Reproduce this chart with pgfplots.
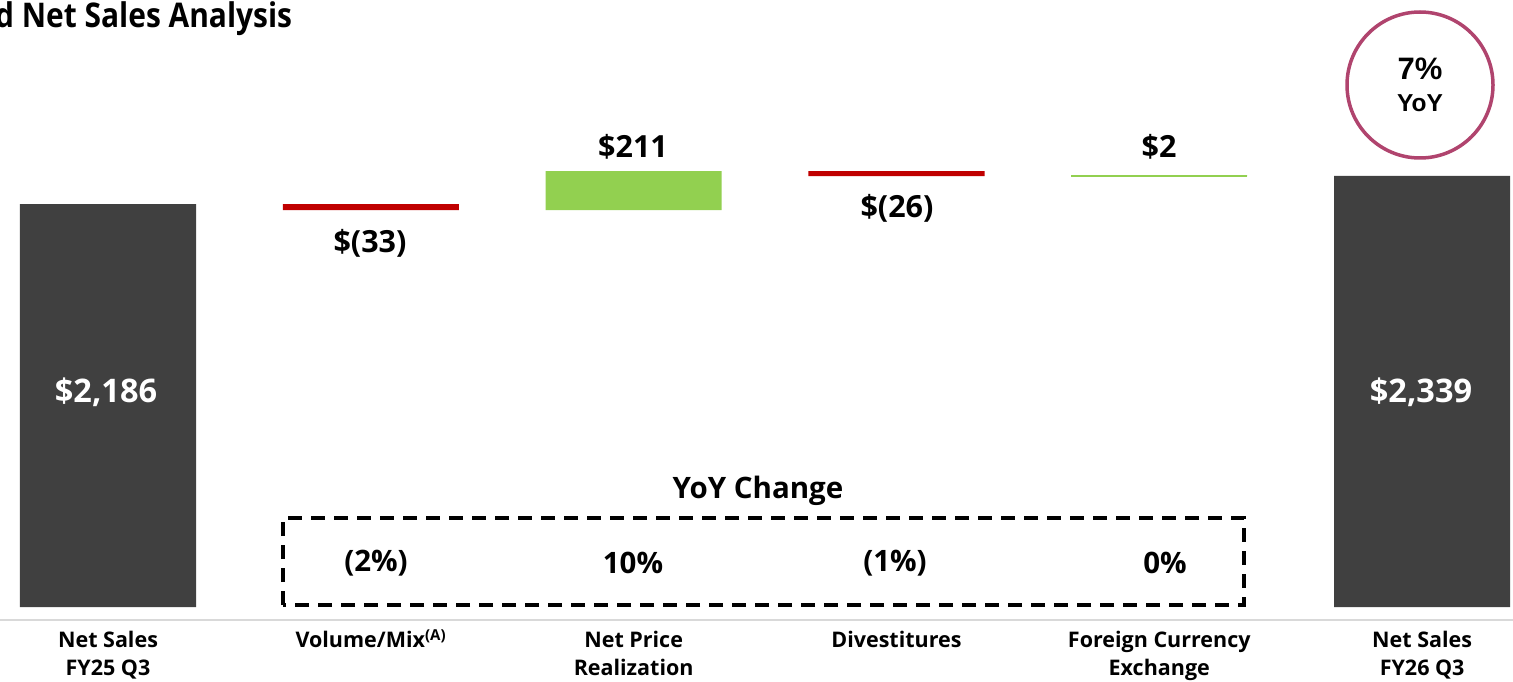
\documentclass[border=0pt]{standalone}
\usepackage{pgfplots}
\pgfplotsset{compat=1.18}
\usepackage{pgfplotstable}
\usepackage{fontspec}
\setmainfont{Open Sans}
\newfontfamily\condfont{Open Sans}[FakeStretch=0.88]
\newfontfamily\arialfont{Liberation Sans}
\definecolor{dark}{HTML}{404040}
\definecolor{negred}{HTML}{C00000}
\definecolor{posgreen}{HTML}{92D050}
\definecolor{circ}{HTML}{B0446E}
\definecolor{axgray}{HTML}{D9D9D9}

\pgfplotstableread{
x base total dec inc
0 0 2186 0 0
1 2153 0 33 0
2 2153 0 0 211
3 2338 0 26 0
4 2338 0 0 2
5 0 2339 0 0
}\wf

\begin{document}
\begin{tikzpicture}
\pgfplotsset{common/.style={scale only axis, width=1513pt, height=620pt, at={(0pt,0pt)}, anchor=south west,
  xmin=-0.411, xmax=5.346, ymin=-70.5, ymax=3293, clip=false}}
\begin{axis}[common, ybar stacked, bar width=0.67,
  axis x line*=bottom, axis y line=none,
  x axis line style={draw=axgray, line width=2pt},
  xtick={0,1,2,3,4,5},
  xticklabels={{Net Sales\\FY25 Q3},{Volume/Mix\smash{\textsuperscript{(A)}}},{Net Price\\Realization},{Divestitures},{Foreign Currency\\Exchange},{Net Sales\\FY26 Q3}},
  major tick length=0pt,
  xticklabel style={font=\fontsize{21.5}{28}\selectfont\bfseries, align=center, anchor=north, inner sep=0pt, yshift=-11pt},
  ytick=\empty]
\addplot[fill=none, draw=none] table[x=x,y=base]{\wf};
\addplot[fill=dark, draw=none] table[x=x,y=total]{\wf};
\addplot[fill=negred, draw=none] table[x=x,y=dec]{\wf};
\addplot[fill=posgreen, draw=none] table[x=x,y=inc]{\wf};
\end{axis}
\begin{axis}[common, hide axis]
\addplot[color=posgreen, line width=1.8pt, mark=none] coordinates {(3.665,2339) (4.335,2339)};
\end{axis}

% title
\node[anchor=base west, inner sep=0pt, font=\condfont\fontsize{34}{38}\selectfont\bfseries] at (-5pt,592pt) {d Net Sales Analysis};

% value labels
\node[text=white, font=\fontsize{32.5}{36}\selectfont\bfseries] at (106pt,228pt) {\$2,186};
\node[text=white, font=\fontsize{32.5}{36}\selectfont\bfseries] at (1421pt,228pt) {\$2,339};
\node[font=\fontsize{30.5}{36}\selectfont\bfseries] at (370pt,377pt) {\$(33)};
\node[font=\fontsize{30.5}{36}\selectfont\bfseries] at (633pt,473pt) {\$211};
\node[font=\fontsize{30.5}{36}\selectfont\bfseries] at (897pt,412pt) {\$(26)};
\node[font=\fontsize{30.5}{36}\selectfont\bfseries] at (1159pt,473pt) {\$2};

% YoY change box
\node[font=\fontsize{29.5}{34}\selectfont\bfseries] at (758pt,129pt) {YoY Change};
\draw[line width=3.5pt, dash pattern=on 14pt off 9pt] (283pt,15pt) rectangle (1244pt,102pt);
\node[font=\fontsize{29.5}{34}\selectfont\bfseries] at (376pt,57pt) {(2\%)};
\node[font=\fontsize{29.5}{34}\selectfont\bfseries] at (633pt,57pt) {10\%};
\node[font=\fontsize{29.5}{34}\selectfont\bfseries] at (895pt,57pt) {(1\%)};
\node[font=\fontsize{29.5}{34}\selectfont\bfseries] at (1165pt,57pt) {0\%};

% circle
\draw[circ, line width=3.5pt] (1420pt,535pt) circle (73pt);
\node[font=\arialfont\fontsize{31}{34}\selectfont\bfseries] at (1420pt,551pt) {7\%};
\node[font=\arialfont\fontsize{24.5}{28}\selectfont\bfseries] at (1420pt,517pt) {YoY};

\pgfresetboundingbox
\useasboundingbox (0pt,-61pt) rectangle (1513pt,620pt);
\end{tikzpicture}
\end{document}
